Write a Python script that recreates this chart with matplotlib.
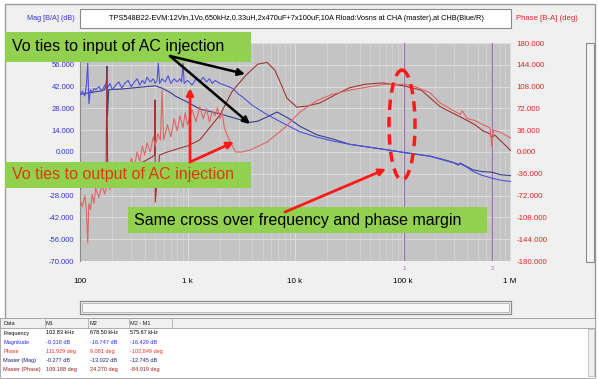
import matplotlib
matplotlib.use('Agg')
import matplotlib.pyplot as plt
from matplotlib.patches import Rectangle, Ellipse, FancyArrowPatch
from matplotlib.transforms import Affine2D
from matplotlib.ticker import FixedLocator, NullFormatter, LogLocator

# ---------------- data ----------------
# Magnitude (CHB, blue)
magA_f = [100,105,111,115,118,121,125,130,135,140,150,160,170,180,190,200,215,230,245,260,280,300,320,340,360,380,400,420,450,480,500,520,535,550,580,620,660,700,750,800,850,880,908,930,1000,1100,1200,1300,1400,1500,1600,1700,1800,2000,2200,2400,2600,3000,3300,4000,5500,8000,11100,16000,22500,32000,50000,70000,102830,180000,250000,300000,330000,345000,400000,453000,550000,678500,800000,1020000]
magA = [37,39,36,44,57,31,40,38,41,40,42,39,43,41,44,40,43,45,41,44,46,42,45,47,43,46,44,48,45,47,44,46,57,44,47,45,49,44,47,45,47,45,57,44,46,43,47,45,48,45,47,44,46,44,43,42,41,37,35,30,24,18,13,9.5,7,5,3,1.5,-0.32,-2.8,-5.5,-7,-8.5,-7.5,-10,-12.5,-15,-16.75,-18,-19]
# Master magnitude (dark blue)
magB_f = [100,120,150,170,176,178,180,185,250,350,500,580,700,765,1000,1300,2000,3000,3800,4500,5500,6800,8000,9000,11100,16000,22500,32000,50000,70000,102830,180000,250000,300000,330000,345000,400000,453000,550000,660000,678500,700000,800000,1020000]
magB = [37,38,39,40,45,55,23,40,40.5,41.5,42.5,41,38,36,32,27.6,24.5,21,19,19.8,22.5,25.7,23,21,16.5,11,8.3,5,3,1.5,-0.28,-2.6,-5.2,-6.8,-8,-7.2,-9.5,-11.5,-12.6,-12.9,-13.0,-13.2,-14.5,-15.2]
# Phase (CHB, light red)
phD_f = [100,105,111,115,118,121,125,130,135,140,150,160,170,180,190,200,215,230,245,260,280,300,320,340,360,380,400,420,450,480,500,530,560,580,600,650,700,750,800,850,908,950,1000,1100,1200,1300,1400,1500,1600,1700,1800,1900,2000,2100,2200,2400,2600,2800,3200,3800,5500,8000,11100,16000,22000,32000,50000,70000,102830,130000,180000,223000,300000,343000,360000,400000,472000,560000,650000,678500,700000,800000,1020000]
phD = [-79,-90,-72,-100,-150,-85,-95,-70,-85,-60,-75,-55,-70,-48,-62,-40,-55,-30,-45,-20,-35,-10,-25,0,-15,10,-5,15,0,25,10,30,20,102,20,45,25,55,35,60,40,65,45,70,50,75,55,72,50,68,60,73,55,66,40,23,11,0,0,3,16.5,40,66,85,95,102,108,112,111.9,108,98,81,68,62,68,55,52,45,40,9,36,33,23]
# Master phase (dark red)
phC_f = [100,120,150,175,178,181,200,250,300,350,400,450,495,498,501,550,650,800,1000,1300,2000,2600,3500,4500,5500,6500,7500,8400,10400,13000,17000,24000,32000,45000,65000,102830,150000,223000,343000,400000,472000,560000,650000,678500,720000,800000,1020000]
phC = [-60,-50,-45,-30,139,-40,-35,-30,-25,-20,-15,-10,-5,86,-83,-5,0,5,10,20,61,100,127,145,148,135,110,89,74,76,81,95,106,112,114,109.2,102,75,58,52,45,35,30,24.3,28,20,2]

mag_ticks = [-70,-56,-42,-28,-14,0,14,28,42,56,70]
ph_ticks = [-180,-144,-108,-72,-36,0,36,72,108,144,180]
x_ticks = [100, 1000, 10000, 100000, 1000000]
x_labels = ['100', '1 k', '10 k', '100 k', '1 M']
markers_f = [102830, 678500]
marker_labels = ['1', '2']
title = "TPS548B22-EVM:12Vin,1Vo,650kHz,0.33uH,2x470uF+7x100uF,10A Rload:Vosns at CHA (master),at CHB(Blue/R)"

table_header = ['Data', 'M1', 'M2', 'M2 - M1']
table_rows = [
    ('Frequency', ['102.83 kHz', '678.50 kHz', '575.67 kHz'], '#000000'),
    ('Magnitude', ['-0.318 dB', '-16.747 dB', '-16.429 dB'], '#2a2aff'),
    ('Phase', ['111.929 deg', '9.081 deg', '-102.849 deg'], '#ff2a2a'),
    ('Master (Mag)', ['-0.277 dB', '-13.022 dB', '-12.745 dB'], '#22227a'),
    ('Master (Phase)', ['109.188 deg', '24.270 deg', '-84.919 deg'], '#9a2020'),
]

# ---------------- figure ----------------
W, H = 599, 379
plt.rcParams['font.family'] = ['Liberation Sans', 'DejaVu Sans']
fig = plt.figure(figsize=(W/100, H/100), dpi=100)
fig.patch.set_facecolor('white')
pix = Affine2D().scale(1/W, -1/H).translate(0, 1) + fig.transFigure

def rect(x0, y0, x1, y1, fc, ec='none', lw=0.8, z=-5):
    fig.add_artist(Rectangle((x0, y0), x1-x0, y1-y0, transform=pix, fc=fc, ec=ec, lw=lw, zorder=z))

# window
rect(5, 4, 595, 377, '#f0f0f0', '#9a9a9a', 1.0, -10)
# title box
rect(80, 9, 511, 28, 'white', '#8a8a8a', 0.8)
fig.text(296/W, 1-18/H, title, fontsize=5.35, ha='center', va='center')
fig.text(75/W, 1-18/H, 'Mag [B/A] (dB)', fontsize=5.2, color='#3535d0', ha='right', va='center')
fig.text(516/W, 1-18/H, 'Phase [B-A] (deg)', fontsize=5.6, color='#e02828', ha='left', va='center')
# vertical scrollbar
rect(586, 43, 594, 262, '#f4f4f4', '#8a8a8a', 0.8)
# horizontal scrollbar
rect(80, 301, 511, 314, '#f4f4f4', '#8a8a8a', 0.9)
rect(82, 303, 509, 312, '#f8f8f8', '#b0b0b0', 0.6)

# table
rect(0, 318, 595, 378, 'white', '#a0a0a0', 0.6)
rect(0, 318, 595, 328, '#f0f0f0', '#a0a0a0', 0.6)
for cx in [45, 88, 129, 172]:
    fig.add_artist(plt.Line2D([cx/W, cx/W], [1-318/H, 1-328/H], color='#b0b0b0', lw=0.6))
rect(588, 329, 594, 376, '#f0f0f0', '#b0b0b0', 0.5)
col_x = [3, 46, 90, 130]
tf = dict(fontsize=4.0, va='center', ha='left')
for cx, t in zip(col_x, table_header):
    fig.text(cx/W, 1-323.5/H, t, color='#222222', **tf)
for i, (name, vals, col) in enumerate(table_rows):
    yy = 333 + i*9.2
    fig.text(col_x[0]/W, 1-yy/H, name, color=col, **tf)
    for cx, v in zip(col_x[1:], vals):
        fig.text(cx/W, 1-yy/H, v, color=col, **tf)

# ---------------- axes ----------------
ax = fig.add_axes([80/W, 1-261/H, 431/W, 218/H])
ax.set_facecolor('#c4c4c4')
ax.set_xscale('log')
ax.set_xlim(100, 1.02e6)
ax.set_ylim(-70, 70)
ax.set_yticks(mag_ticks)
# labels at 70 and -14 are hidden behind the green call-out boxes in the reference
ax.set_yticklabels(['' if v in (70, -14) else '%.3f' % v for v in mag_ticks])
ax.xaxis.set_major_locator(FixedLocator(x_ticks))
ax.set_xticklabels(x_labels)
ax.xaxis.set_minor_locator(LogLocator(base=10, subs=range(2, 10), numticks=20))
ax.xaxis.set_minor_formatter(NullFormatter())
ax.grid(True, which='major', color='#dcdcdc', lw=0.7)
ax.grid(True, which='minor', axis='x', color='#d6d6d6', lw=0.5)
ax.set_axisbelow(True)
ax.tick_params(axis='both', which='both', length=0)
ax.tick_params(axis='y', colors='#3535d0', labelsize=5.5, pad=4)
ax.tick_params(axis='x', labelsize=5.8, pad=12)
for s in ax.spines.values():
    s.set_visible(False)
ax.spines['left'].set_visible(True)
ax.spines['left'].set_color('#8a8a8a')

ax2 = ax.twinx()
ax2.set_ylim(-180, 180)
ax2.set_yticks(ph_ticks)
ax2.set_yticklabels(['%.3f' % v for v in ph_ticks])
ax2.tick_params(axis='y', length=0, colors='#e02828', labelsize=5.7, pad=4)
for s in ax2.spines.values():
    s.set_visible(False)

for mf, ml in zip(markers_f, marker_labels):
    ax.axvline(mf, color='#9a6ab0', lw=0.8, zorder=1)
    ax.text(mf, -74.5, ml, color='#9a6ab0', fontsize=4.5, ha='center', va='center', clip_on=False)

ax2.plot(phC_f, phC, color='#a03535', lw=0.8, zorder=3)
ax2.plot(phD_f, phD, color='#e06565', lw=0.8, zorder=3)
ax.plot(magB_f, magB, color='#3c3c90', lw=0.8, zorder=3)
ax.plot(magA_f, magA, color='#5050e0', lw=0.8, zorder=3)
ax.set_zorder(1)
ax2.set_zorder(2)

# ---------------- annotations ----------------
green = '#92d050'
rect(5, 32, 251, 62, green, z=20)
fig.text(12/W, 1-47/H, 'Vo ties to input of AC injection', fontsize=11.5, color='black', va='center', ha='left', zorder=21)
rect(5, 162, 251, 188, green, z=20)
fig.text(12/W, 1-175/H, 'Vo ties to output of AC injection', fontsize=11.5, color='#e03a10', va='center', ha='left', zorder=21)
rect(128, 207, 487, 233, green, z=20)
fig.text(134/W, 1-220/H, 'Same cross over frequency and phase margin', fontsize=11.5, color='black', va='center', ha='left', zorder=21)

def arrow(p0, p1, col, lw=1.8, ms=10):
    fig.add_artist(FancyArrowPatch(p0, p1, transform=pix, arrowstyle='-|>', mutation_scale=ms,
                                   color=col, lw=lw, zorder=22, shrinkA=0, shrinkB=0))

arrow((170, 56), (245, 74), 'black')
arrow((170, 56), (250, 124), 'black')
arrow((190, 162), (190, 88), '#ff1a1a', 2.0)
arrow((190, 162), (234, 142), '#ff1a1a', 2.0)
arrow((285, 212), (386, 169), '#ff1a1a', 2.0)
fig.add_artist(Ellipse((402, 125), 26, 110, transform=pix, fc='none', ec='#ff1a1a', lw=2.5, ls=(0, (3, 2)), zorder=22))

fig.savefig('out.png', dpi=100, facecolor=fig.get_facecolor())
